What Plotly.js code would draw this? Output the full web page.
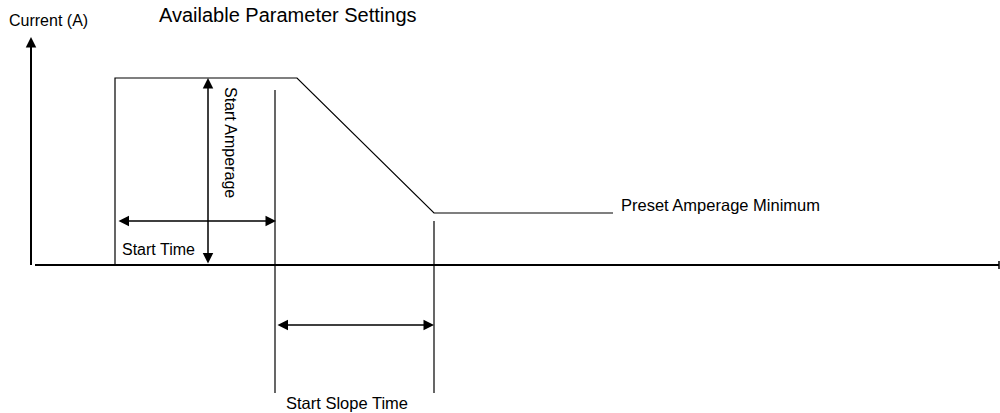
<!DOCTYPE html>
<html>
<head>
<meta charset="utf-8">
<script src="https://cdn.plot.ly/plotly-3.0.1.min.js"></script>
<style>
  html, body { margin: 0; padding: 0; background: #fff; }
  #graph { width: 1000px; height: 413px; }
</style>
</head>
<body>
<div id="graph"></div>
<script>
// current waveform (time, amps) in diagram units, baseline at 0
const waveTime = [115, 115, 297, 434, 613];
const waveAmps = [0, 187, 187, 52, 52];

// axes
const axisTime = [35, 999];
const axisAmps = [0, 228];
const axisOrigin = 31;

// dimension guides
const startTimeEnd = 275;
const slopeEnd = 434;
const guideTop = [175, 44];
const guideBottom = -128;

// dimension arrows
const ampArrowX = 208;
const timeArrowY = 44;
const slopeArrowY = -60;

const labels = {
    yTitle: 'Current (A)',
    title: 'Available Parameter Settings',
    startAmp: 'Start Amperage',
    startTime: 'Start Time',
    presetMin: 'Preset Amperage Minimum',
    slopeTime: 'Start Slope Time'
};

const ink = '#000';
const font = 'Liberation Sans, Arial, sans-serif';

function seg(x, y, w) {
    return {
        x: x, y: y, type: 'scatter', mode: 'lines',
        line: { color: ink, width: w }, hoverinfo: 'skip', showlegend: false
    };
}

const traces = [
    seg(waveTime, waveAmps, 1.2),
    seg(axisTime, [0, 0], 2),
    seg([axisTime[1], axisTime[1]], [-4, 4], 1.5),
    seg([axisOrigin, axisOrigin], [0, axisAmps[1] - 8], 2),
    seg([startTimeEnd, startTimeEnd], [guideTop[0], guideBottom], 1.2),
    seg([slopeEnd, slopeEnd], [guideTop[1], guideBottom], 1.2)
];

function arrow(x0, y0, x1, y1, both) {
    return {
        x: x1, y: y1, ax: x0, ay: y0,
        xref: 'x', yref: 'y', axref: 'x', ayref: 'y',
        text: '', showarrow: true, arrowhead: 2, arrowsize: 1.4,
        arrowwidth: 1.5, arrowcolor: ink,
        arrowside: both ? 'end+start' : 'end', standoff: 0, startstandoff: 0
    };
}

function label(text, x, y, size, anchor, angle) {
    return {
        x: x, y: y, xref: 'x', yref: 'y', text: text, showarrow: false,
        xanchor: anchor, yanchor: 'middle', textangle: angle || 0,
        font: { family: font, size: size, color: ink }
    };
}

const annotations = [
    arrow(axisOrigin, 0, axisOrigin, axisAmps[1], false),
    arrow(ampArrowX, 0, ampArrowX, waveAmps[1], true),
    arrow(117, timeArrowY, startTimeEnd + 1, timeArrowY, true),
    arrow(startTimeEnd + 1, slopeArrowY, slopeEnd, slopeArrowY, true),
    label(labels.yTitle, 48, 245, 16, 'center'),
    label(labels.title, 157, 250, 20, 'left'),
    label(labels.startAmp, 231, 123, 16, 'center', 90),
    label(labels.startTime, 120, 16, 16, 'left'),
    label(labels.presetMin, 619, 60, 16.5, 'left'),
    label(labels.slopeTime, 284, -138, 16.5, 'left')
];

Plotly.newPlot('graph', traces, {
    width: 1000,
    height: 413,
    margin: { l: 0, r: 0, t: 0, b: 0 },
    paper_bgcolor: '#fff',
    plot_bgcolor: '#fff',
    xaxis: { range: [0, 1000], visible: false, fixedrange: true },
    yaxis: { range: [-148, 265], visible: false, fixedrange: true },
    annotations: annotations,
    showlegend: false
}, { staticPlot: true });
</script>
</body>
</html>
